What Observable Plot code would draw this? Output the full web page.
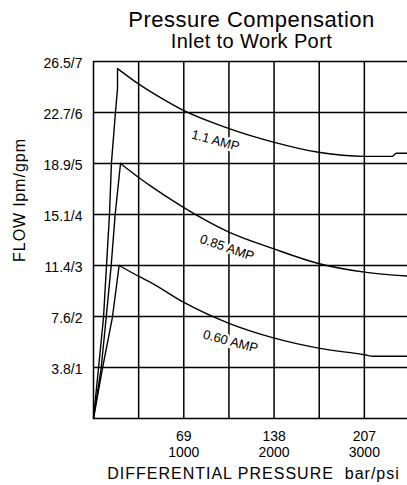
<!DOCTYPE html>
<html>
<head>
<meta charset="utf-8">
<script src="https://cdn.jsdelivr.net/npm/d3@7"></script>
<script src="https://cdn.jsdelivr.net/npm/@observablehq/plot@0.6"></script>
<style>
  html, body { margin: 0; padding: 0; background: #fff; overflow: hidden; }
  #chart svg { display: block; }
</style>
</head>
<body>
<div id="chart"></div>
<script>
// Tick labels
const yTicks = [1, 2, 3, 4, 5, 6, 7];
const yTickLabels = ["3.8/1", "7.6/2", "11.4/3", "15.1/4", "18.9/5", "22.7/6", "26.5/7"];
const xTicks = [1000, 2000, 3000];
const xTickLabelsBar = ["69", "138", "207"];
const xTickLabelsPsi = ["1000", "2000", "3000"];
const xGrid = [0, 500, 1000, 1500, 2000, 2500, 3000];
const yGrid = [0, 1, 2, 3, 4, 5, 6, 7];

// Curves: differential pressure (psi) vs flow (gpm)
const psi11 = [0, 55, 111, 144, 177, 199, 244, 266, 266, 498, 742, 996, 1494, 1993, 2491, 3000, 3310, 3354, 3500];
const gpm11 = [0, 0.98, 1.98, 3.0, 4.0, 5.02, 6.02, 6.47, 6.86, 6.56, 6.29, 6.04, 5.69, 5.42, 5.22, 5.14, 5.14, 5.2, 5.2];

const psi085 = [0, 85, 141, 196, 240, 299, 520, 631, 996, 1494, 1993, 2491, 3000, 3500];
const gpm085 = [0, 0.99, 1.99, 3.0, 4.0, 5.0, 4.70, 4.56, 4.14, 3.66, 3.33, 3.04, 2.87, 2.79];

const psi060 = [0, 100, 210, 284, 520, 631, 996, 1494, 1993, 2491, 3000, 3100, 3500];
const gpm060 = [0, 0.99, 1.99, 3.0, 2.77, 2.67, 2.28, 1.87, 1.58, 1.38, 1.25, 1.22, 1.22];

// index of the peak point in each curve (rise before it, decay after it)
const peakIndex = [8, 5, 3];

const curveNames = ["1.1 AMP", "0.85 AMP", "0.60 AMP"];
const labelPsi = [1351, 1479, 1517];
const labelGpm = [5.45, 3.35, 1.51];
const labelAngle = [15, 19, 15];

const toRows = (xs, ys) => xs.map((x, i) => ({psi: x, gpm: ys[i]}));
const curves = [toRows(psi11, gpm11), toRows(psi085, gpm085), toRows(psi060, gpm060)];
const rises = curves.map((c, i) => c.slice(0, peakIndex[i] + 1));
const decays = curves.map((c, i) => c.slice(peakIndex[i]));
const labels = curveNames.map((t, i) => ({text: t, psi: labelPsi[i], gpm: labelGpm[i], angle: labelAngle[i]}));

const font = "'Liberation Sans', Arial, Helvetica, sans-serif";

const chart = Plot.plot({
  width: 407,
  height: 485,
  marginLeft: 93,
  marginRight: -2,
  marginTop: 61,
  marginBottom: 67,
  style: {fontFamily: font, background: "#fff", color: "#000", overflow: "visible"},
  x: {domain: [0, 3500]},
  y: {domain: [0, 7]},
  marks: [
    Plot.ruleX(xGrid, {stroke: "#000", strokeWidth: 1.5}),
    Plot.ruleY(yGrid, {stroke: "#000", strokeWidth: 1.5}),
    ...rises.map(c => Plot.line(c, {x: "psi", y: "gpm", stroke: "#000", strokeWidth: 1.4, strokeLinejoin: "miter"})),
    ...decays.map(c => Plot.line(c, {x: "psi", y: "gpm", stroke: "#000", strokeWidth: 1.4, curve: "monotone-x"})),
    Plot.text(labels, {x: "psi", y: "gpm", text: "text", rotate: "angle", fontSize: 13,
      fill: "#000", stroke: "#fff", strokeWidth: 5, fontFamily: font}),
    Plot.axisY({ticks: yTicks, tickFormat: d => yTickLabels[yTicks.indexOf(d)], tickSize: 0, tickPadding: 11,
      fontSize: 14, dy: 2, label: null}),
    Plot.axisX({ticks: xTicks, tickFormat: d => xTickLabelsBar[xTicks.indexOf(d)] + "\n" + xTickLabelsPsi[xTicks.indexOf(d)],
      tickSize: 0, tickPadding: 11, fontSize: 14, lineHeight: 1.15, label: null}),
    Plot.text(["Pressure Compensation"], {frameAnchor: "top", lineAnchor: "bottom", dy: -35, fontSize: 22, className: "ttl"}),
    Plot.text(["Inlet to Work Port"], {frameAnchor: "top", lineAnchor: "bottom", dy: -14, fontSize: 20, className: "sub"}),
    Plot.text(["DIFFERENTIAL PRESSURE\u00a0\u00a0bar/psi"], {frameAnchor: "bottom", lineAnchor: "bottom", dy: 60, dx: 2, fontSize: 16, className: "xlab"}),
    Plot.text(["FLOW lpm/gpm"], {frameAnchor: "left", rotate: -90, dx: -74, dy: 22, fontSize: 16, className: "ylab"})
  ]
});
document.getElementById("chart").appendChild(chart);

// letter spacing tweaks to match the reference's loose type
d3.select(chart).selectAll(".ttl text").attr("letter-spacing", "0.5");
d3.select(chart).selectAll(".sub text").attr("letter-spacing", "0.4");
d3.select(chart).selectAll(".xlab text").attr("letter-spacing", "1");
d3.select(chart).selectAll(".ylab text").attr("letter-spacing", "1");
</script>
</body>
</html>
